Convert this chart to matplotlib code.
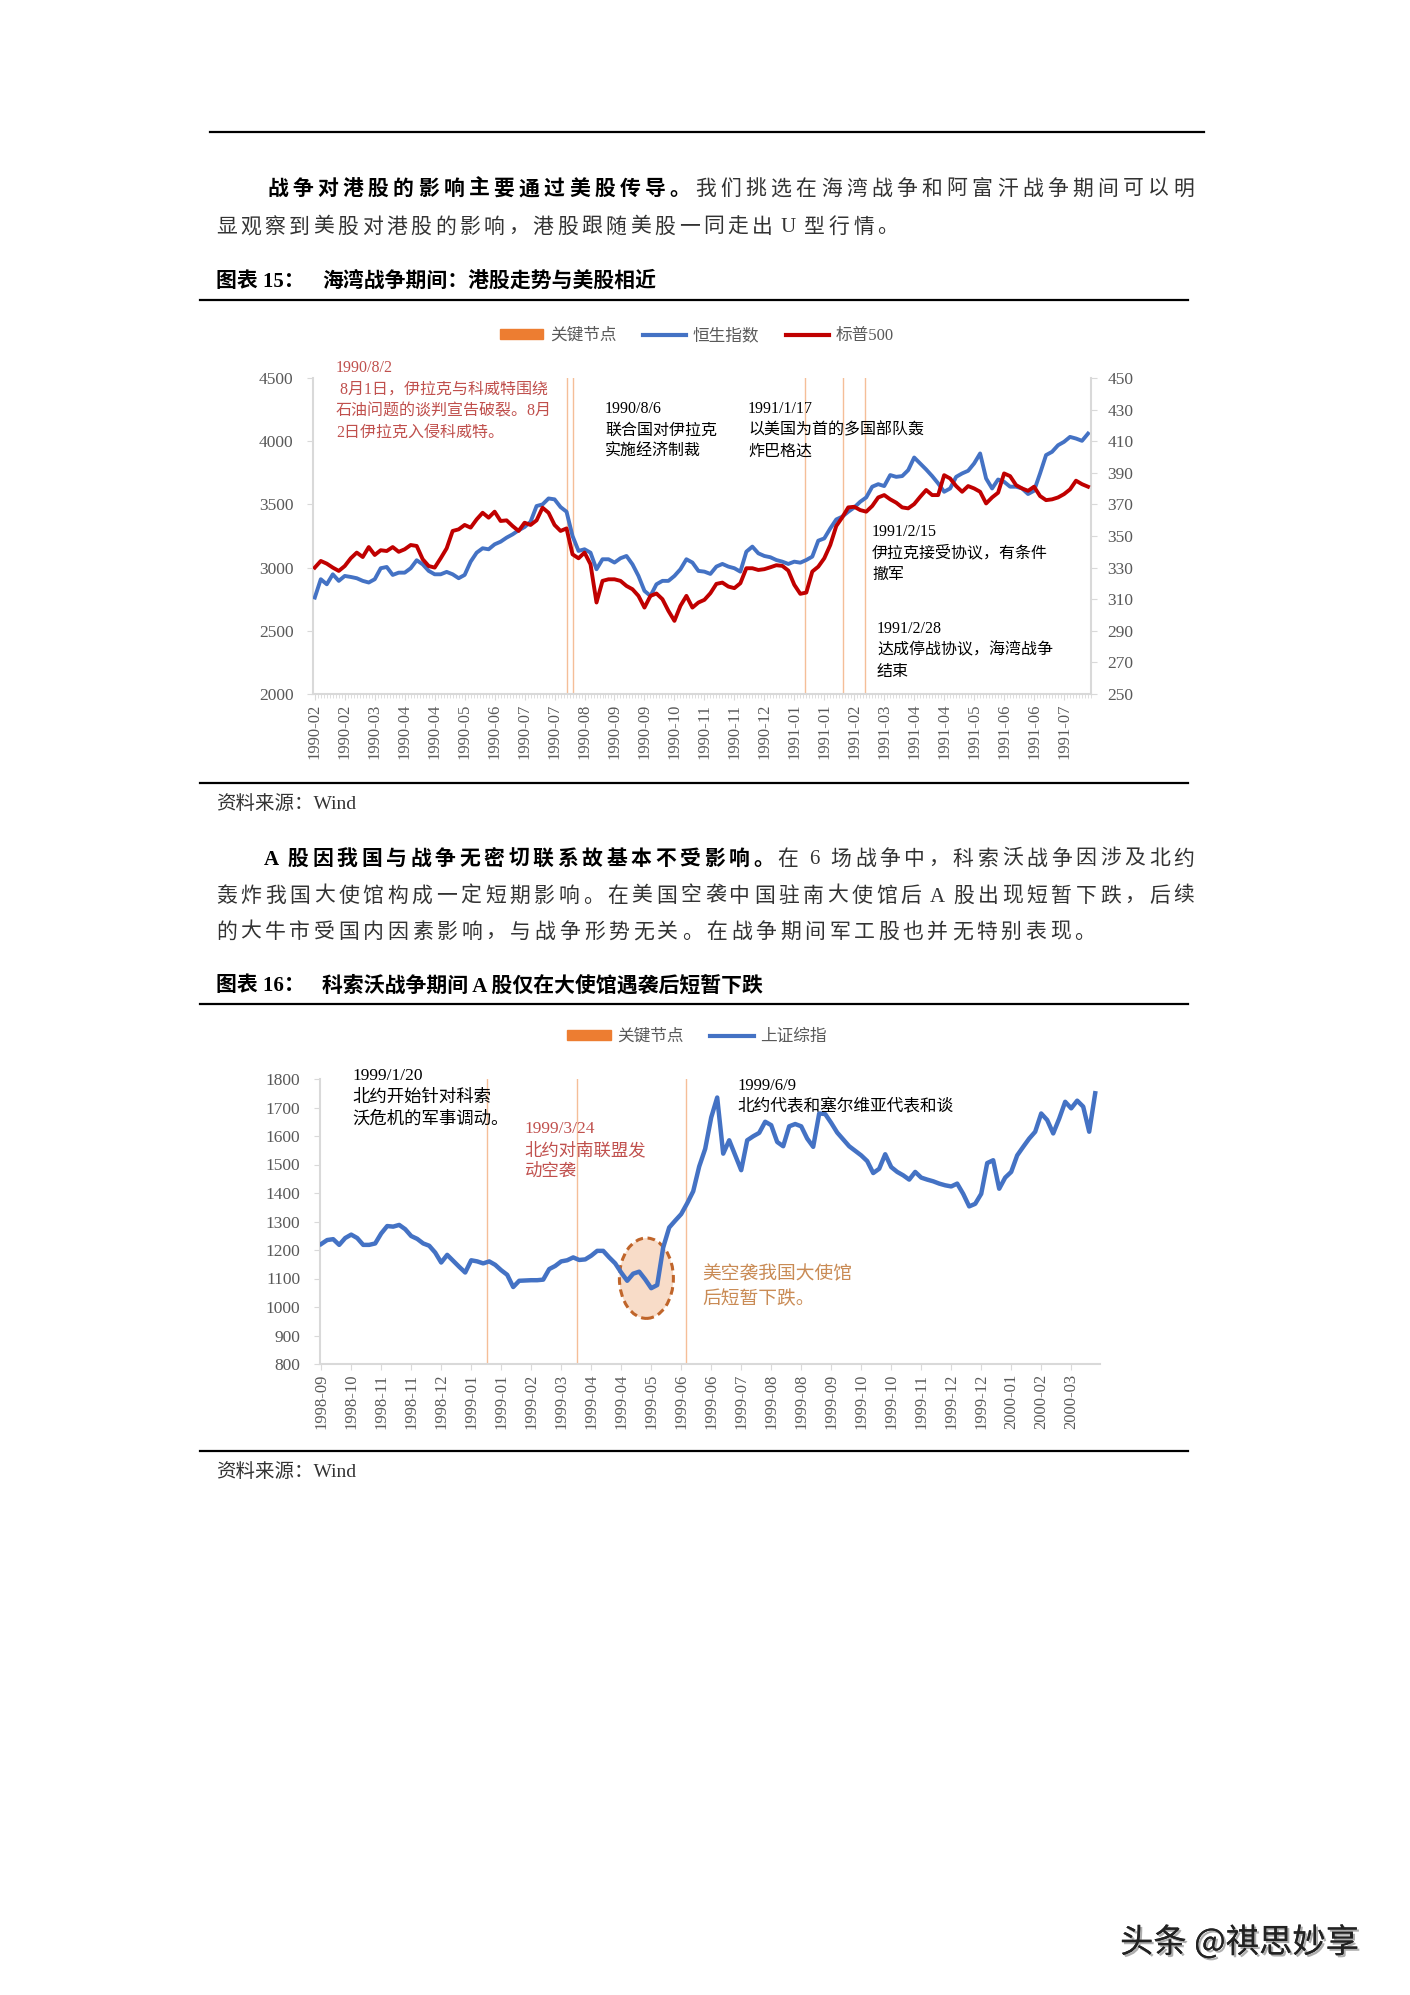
import matplotlib

matplotlib.use("Agg")
import matplotlib.pyplot as plt
import numpy as np
from matplotlib import patches, patheffects
from matplotlib.lines import Line2D

plt.rcParams["font.family"] = ["Liberation Serif", "Noto Sans CJK SC"]

W, H = 1410, 1995

# ---- chart 15 data: Hang Seng (left axis) and S&P 500 (right axis), ~every 3 trading days
hsi = [2763, 2908, 2868, 2947, 2895, 2934, 2926, 2916, 2895, 2882,
       2908, 2995, 3005, 2942, 2960, 2960, 2995, 3058, 3026, 2974,
       2947, 2947, 2966, 2947, 2916, 2942, 3047, 3118, 3153, 3145,
       3184, 3205, 3237, 3263, 3295, 3321, 3363, 3487, 3500, 3547,
       3540, 3479, 3442, 3250, 3132, 3145, 3118, 2987, 3066, 3066,
       3040, 3074, 3092, 3026, 2934, 2816, 2776, 2868, 2895, 2895,
       2934, 2987, 3066, 3040, 2974, 2968, 2950, 3008, 3029, 3008,
       2995, 2968, 3126, 3166, 3113, 3092, 3082, 3060, 3047, 3029,
       3047, 3039, 3060, 3087, 3213, 3231, 3310, 3381, 3403, 3442,
       3476, 3521, 3555, 3640, 3660, 3645, 3732, 3718, 3724, 3771,
       3871, 3824, 3776, 3724, 3666, 3600, 3626, 3718, 3745, 3766,
       3824, 3903, 3705, 3626, 3697, 3679, 3640, 3640, 3626, 3582,
       3608, 3745, 3890, 3916, 3968, 3995, 4034, 4021, 4003, 4060]
spx = [330.0, 334.2, 332.5, 330.0, 327.9, 331.0, 335.9, 339.5, 336.7, 343.0,
       338.0, 341.0, 340.5, 343.0, 340.0, 341.6, 344.3, 343.7, 335.3, 331.0,
       330.0, 335.9, 342.2, 353.2, 354.2, 357.0, 355.3, 360.5, 364.7, 361.6,
       365.4, 359.5, 359.9, 356.3, 353.2, 358.4, 357.0, 359.9, 367.9, 364.7,
       357.0, 353.2, 354.8, 338.4, 335.9, 339.5, 332.1, 307.9, 321.6, 322.6,
       322.6, 321.6, 318.4, 316.3, 312.1, 304.7, 312.1, 313.6, 310.0, 302.6,
       296.3, 305.8, 312.1, 304.7, 307.9, 309.6, 313.8, 319.7, 320.5, 318.0,
       317.0, 320.1, 329.6, 329.6, 328.5, 329.0, 330.2, 331.5, 331.1, 328.1,
       319.1, 313.4, 314.2, 327.5, 330.6, 335.9, 344.3, 356.3, 361.8, 368.1,
       368.5, 366.4, 365.4, 369.0, 374.4, 375.9, 373.2, 371.1, 368.1, 367.5,
       370.2, 374.8, 379.1, 375.9, 375.9, 388.5, 386.4, 381.6, 378.0, 381.6,
       380.1, 378.0, 370.6, 374.4, 377.4, 389.6, 387.9, 382.2, 380.1, 378.6,
       381.2, 375.3, 372.7, 373.2, 374.4, 376.5, 379.5, 385.0, 382.8, 381.2]
labels15 = ["1990-02", "1990-02", "1990-03", "1990-04", "1990-04", "1990-05",
            "1990-06", "1990-07", "1990-07", "1990-08", "1990-09", "1990-09",
            "1990-10", "1990-11", "1990-11", "1990-12", "1991-01", "1991-01",
            "1991-02", "1991-03", "1991-04", "1991-04", "1991-05", "1991-06",
            "1991-06", "1991-07"]
events15 = [42, 43, 81.8, 88.2, 91.8]  # 8/2, 8/6, 1/17, 2/15, 2/28

# ---- chart 16 data: Shanghai composite
sse = [1221, 1235, 1238, 1218, 1242, 1254, 1242, 1218, 1218, 1223,
       1258, 1284, 1282, 1288, 1273, 1249, 1239, 1223, 1215, 1191,
       1156, 1183, 1162, 1141, 1121, 1164, 1160, 1153, 1160, 1148,
       1129, 1113, 1070, 1092, 1093, 1094, 1094, 1096, 1133, 1144,
       1160, 1164, 1174, 1165, 1167, 1180, 1197, 1197, 1174, 1153,
       1121, 1092, 1117, 1124, 1097, 1066, 1077, 1209, 1279, 1303,
       1326, 1364, 1406, 1493, 1555, 1665, 1735, 1538, 1585, 1532,
       1480, 1585, 1599, 1611, 1650, 1638, 1579, 1564, 1634, 1642,
       1634, 1591, 1562, 1679, 1677, 1646, 1612, 1588, 1564, 1548,
       1532, 1512, 1470, 1485, 1536, 1491, 1474, 1462, 1447, 1474,
       1454, 1447, 1441, 1433, 1427, 1423, 1433, 1397, 1353, 1362,
       1397, 1505, 1515, 1415, 1454, 1474, 1532, 1562, 1591, 1615,
       1679, 1656, 1609, 1661, 1720, 1697, 1724, 1703, 1615, 1750]
labels16 = ["1998-09", "1998-10", "1998-11", "1998-11", "1998-12", "1999-01",
            "1999-01", "1999-02", "1999-03", "1999-04", "1999-04", "1999-05",
            "1999-06", "1999-06", "1999-07", "1999-08", "1999-08", "1999-09",
            "1999-10", "1999-10", "1999-11", "1999-12", "1999-12", "2000-01",
            "2000-02", "2000-03"]
events16 = [27.7, 42.7, 60.8]  # 1999/1/20, 3/24, 6/9
dip_center, dip_level = 54.2, 1101  # embassy bombing dip

BLUE = "#4472C4"
RED = "#C00000"
ORANGE = "#ED7D31"
EVENT = "#F5BE98"
GRID = "#D9D9D9"
TICK = "#595959"
NOTE_RED = "#C0504D"
NOTE_BROWN = "#C98B55"


def fx(x):
    return x / W


def fy(y):
    return 1 - y / H


def rule(fig, x0, x1, y, lw=1.6):
    fig.add_artist(Line2D([fx(x0), fx(x1)], [fy(y), fy(y)], color="black", lw=lw))


def put_line(fig, x0, x1, y, parts, size=15, color="#333333"):
    # spread the characters evenly between x0 and x1 (justified body text)
    def unit(c):
        if c == " ":
            return 0.3
        return 0.55 if ord(c) < 0x2E80 else 1.0

    units = sum(unit(c) for t, _ in parts for c in t)
    pitch = (x1 - x0) / units
    x = x0
    for text, bold in parts:
        for c in text:
            w = unit(c) * pitch
            if c != " ":
                fig.text(fx(x + w / 2), fy(y), c, ha="center", va="center",
                         fontsize=size, weight="bold" if bold else "normal",
                         color="black" if bold else color)
            x += w


def note(fig, x, y, lines, color="black", size=11.5, step=21.5):
    for k, s in enumerate(lines):
        fig.text(fx(x), fy(y + k * step), s, ha="left", va="center",
                 fontsize=size, color=color)


def style_axis(ax, labels, n):
    for side in ["top", "right"]:
        ax.spines[side].set_visible(False)
    for side in ["left", "bottom"]:
        ax.spines[side].set_color(GRID)
        ax.spines[side].set_linewidth(1.5)
    ax.set_xticks(np.arange(0, 5 * len(labels), 5))
    ax.set_xticklabels(labels, rotation=90, fontsize=12, color=TICK)
    ax.tick_params(axis="x", length=4, color=GRID, pad=3)
    ax.tick_params(axis="y", length=4, color=GRID, labelsize=12.5,
                   labelcolor=TICK, pad=10)
    ax.set_xlim(-0.3, n - 0.6)


def main():
    fig = plt.figure(figsize=(W / 100, H / 100), dpi=100)
    fig.patch.set_facecolor("white")

    # ---- page text, top block
    rule(fig, 210, 1204, 132)
    put_line(fig, 265, 1196, 190,
             [("战争对港股的影响主要通过美股传导。", True),
              ("我们挑选在海湾战争和阿富汗战争期间可以明", False)])
    put_line(fig, 214, 900, 228,
             [("显观察到美股对港股的影响，港股跟随美股一同走出 U 型行情。", False)])
    fig.text(fx(216), fy(282), "图表 15：", fontsize=15, weight="bold",
             ha="left", va="center")
    fig.text(fx(322), fy(282), "海湾战争期间：港股走势与美股相近", fontsize=15,
             weight="bold", ha="left", va="center")
    rule(fig, 200, 1188, 300)

    # ---- chart 15
    n1 = len(hsi)
    ax1 = fig.add_axes([fx(313), fy(694), (1091 - 313) / W, (694 - 378) / H])
    idx1 = np.arange(n1)
    for e in events15:
        ax1.axvline(e, color=EVENT, lw=1.0, zorder=1)
    ax1.plot(idx1, hsi, color=BLUE, lw=2.8, zorder=3, solid_joinstyle="round")
    ax1.set_ylim(2000, 4500)
    ax1.set_yticks(np.arange(2000, 4501, 500))
    style_axis(ax1, labels15, n1)
    ax1.set_xticks(np.arange(0, n1, 0.5), minor=True)
    ax1.tick_params(axis="x", which="minor", length=3, color=GRID)

    ax1r = ax1.twinx()
    ax1r.plot(idx1, spx, color=RED, lw=2.8, zorder=3, solid_joinstyle="round")
    ax1r.set_ylim(250, 450)
    ax1r.set_yticks(np.arange(250, 451, 20))
    for side in ["top", "left", "bottom"]:
        ax1r.spines[side].set_visible(False)
    ax1r.spines["right"].set_color(GRID)
    ax1r.spines["right"].set_linewidth(1.5)
    ax1r.tick_params(axis="y", length=4, color=GRID, labelsize=12.5,
                     labelcolor=TICK, pad=8)

    h1 = [patches.Patch(color=ORANGE),
          Line2D([], [], color=BLUE, lw=3),
          Line2D([], [], color=RED, lw=3)]
    leg = ax1r.legend(h1, ["关键节点", "恒生指数", "标普500"], ncol=3,
                      loc="center", bbox_to_anchor=(fx(697), fy(336)),
                      bbox_transform=fig.transFigure, frameon=False,
                      fontsize=12, handlelength=2.6, handleheight=0.5,
                      columnspacing=1.6, handletextpad=0.4)
    for t in leg.get_texts():
        t.set_color(TICK)

    note(fig, 336, 368, ["1990/8/2", " 8月1日，伊拉克与科威特围绕",
                         "石油问题的谈判宣告破裂。8月", "2日伊拉克入侵科威特。"],
         color=NOTE_RED)
    note(fig, 605, 409, ["1990/8/6", "联合国对伊拉克", "实施经济制裁"])
    note(fig, 748, 409, ["1991/1/17", "以美国为首的多国部队轰", "炸巴格达"])
    note(fig, 872, 532, ["1991/2/15", "伊拉克接受协议，有条件", "撤军"])
    note(fig, 877, 629, ["1991/2/28", "达成停战协议，海湾战争", "结束"])

    rule(fig, 200, 1188, 783)
    fig.text(fx(216), fy(804), "资料来源：Wind", fontsize=14, color="#333333",
             ha="left", va="center")

    # ---- middle text
    put_line(fig, 265, 1196, 860,
             [("A 股因我国与战争无密切联系故基本不受影响。", True),
              ("在 6 场战争中，科索沃战争因涉及北约", False)])
    put_line(fig, 214, 1196, 897,
             [("轰炸我国大使馆构成一定短期影响。在美国空袭中国驻南大使馆后 A 股出现短暂下跌，后续", False)])
    put_line(fig, 214, 1097, 933,
             [("的大牛市受国内因素影响，与战争形势无关。在战争期间军工股也并无特别表现。", False)])
    fig.text(fx(216), fy(986), "图表 16：", fontsize=15, weight="bold",
             ha="left", va="center")
    fig.text(fx(322), fy(986), "科索沃战争期间 A 股仅在大使馆遇袭后短暂下跌",
             fontsize=15, weight="bold", ha="left", va="center")
    rule(fig, 200, 1188, 1004)

    # ---- chart 16
    n2 = len(sse)
    ax2 = fig.add_axes([fx(320), fy(1364), (1100 - 320) / W, (1364 - 1079) / H])
    idx2 = np.arange(n2)
    for e in events16:
        ax2.axvline(e, color=EVENT, lw=1.0, zorder=1)
    ax2.add_patch(patches.Ellipse((dip_center, dip_level), 9.0, 282,
                                  facecolor="#F8DCC8", edgecolor="#C0652A",
                                  lw=2.2, ls=(0, (2.5, 1.5)), zorder=2))
    ax2.plot(idx2, sse, color=BLUE, lw=3.2, zorder=3, solid_joinstyle="round")
    ax2.set_ylim(800, 1800)
    ax2.set_yticks(np.arange(800, 1801, 100))
    style_axis(ax2, labels16, n2)
    ax2.set_xlim(-0.2, n2 - 0.2)

    h2 = [patches.Patch(color=ORANGE), Line2D([], [], color=BLUE, lw=3)]
    leg2 = ax2.legend(h2, ["关键节点", "上证综指"], ncol=2, loc="center",
                      bbox_to_anchor=(fx(697), fy(1037)),
                      bbox_transform=fig.transFigure, frameon=False,
                      fontsize=12, handlelength=2.6, handleheight=0.5,
                      columnspacing=1.6, handletextpad=0.4)
    for t in leg2.get_texts():
        t.set_color(TICK)

    note(fig, 352, 1076, ["1999/1/20", "北约开始针对科索", "沃危机的军事调动。"],
         size=12.5, step=22)
    note(fig, 524, 1129, ["1999/3/24", "北约对南联盟发", "动空袭"],
         color=NOTE_RED, size=12.5, step=21.5)
    note(fig, 737, 1086, ["1999/6/9", "北约代表和塞尔维亚代表和谈"],
         size=12, step=21.5)
    note(fig, 702, 1275, ["美空袭我国大使馆", "后短暂下跌。"],
         color=NOTE_BROWN, size=13.5, step=24)

    rule(fig, 200, 1188, 1451)
    fig.text(fx(216), fy(1472), "资料来源：Wind", fontsize=14, color="#333333",
             ha="left", va="center")

    # ---- watermark
    wm = fig.text(fx(1120), fy(1943), "头条 @祺思妙享", fontsize=24,
                  family=["Noto Sans CJK SC"], color="#222222",
                  ha="left", va="center")
    wm.set_path_effects([patheffects.withSimplePatchShadow(
        offset=(1.5, -1.5), shadow_rgbFace="#9a9a9a", alpha=0.8),
        patheffects.Normal()])

    fig.savefig("out.png", dpi=100, facecolor="white")


if __name__ == "__main__":
    main()
